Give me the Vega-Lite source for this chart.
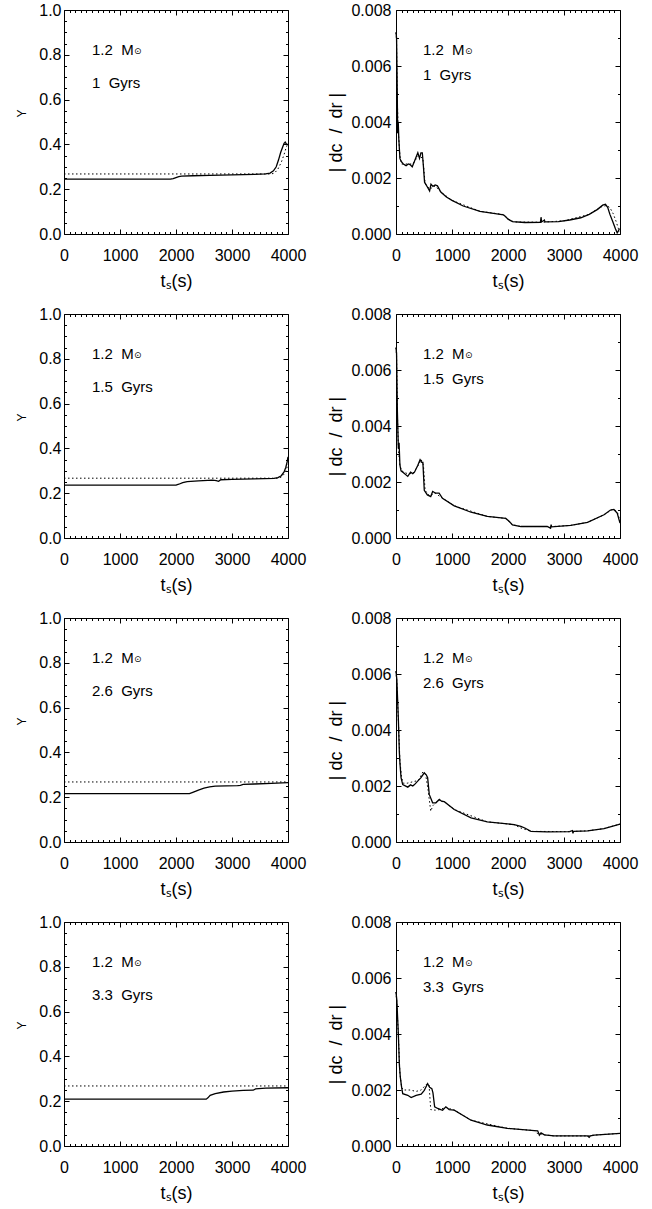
{
"$schema": "https://vega.github.io/schema/vega-lite/v6.json",
"padding": {"left": 14, "top": 1, "right": 5, "bottom": 5},
"background": "white",
"columns": 2,
"spacing": {"row": 80, "column": 108},
"bounds": "flush",
"datasets": {
"L1": [{"t":0,"v":0.245,"m":"s"},{"t":1900,"v":0.245,"m":"s"},{"t":1950,"v":0.247,"m":"s"},{"t":2000,"v":0.252,"m":"s"},{"t":2050,"v":0.256,"m":"s"},{"t":2100,"v":0.258,"m":"s"},{"t":2300,"v":0.26,"m":"s"},{"t":2600,"v":0.262,"m":"s"},{"t":3000,"v":0.264,"m":"s"},{"t":3400,"v":0.266,"m":"s"},{"t":3600,"v":0.268,"m":"s"},{"t":3680,"v":0.272,"m":"s"},{"t":3740,"v":0.282,"m":"s"},{"t":3790,"v":0.3,"m":"s"},{"t":3830,"v":0.33,"m":"s"},{"t":3870,"v":0.365,"m":"s"},{"t":3900,"v":0.385,"m":"s"},{"t":3930,"v":0.405,"m":"s"},{"t":3950,"v":0.41,"m":"s"},{"t":3970,"v":0.402,"m":"s"},{"t":3990,"v":0.4,"m":"s"},
{"t":0,"v":0.268,"m":"d"},{"t":3700,"v":0.268,"m":"d"},{"t":3760,"v":0.272,"m":"d"},{"t":3820,"v":0.29,"m":"d"},{"t":3880,"v":0.32,"m":"d"},{"t":3930,"v":0.355,"m":"d"},{"t":3960,"v":0.38,"m":"d"},{"t":3990,"v":0.4,"m":"d"}],
"L2": [{"t":0,"v":0.236,"m":"s"},{"t":2000,"v":0.236,"m":"s"},{"t":2050,"v":0.24,"m":"s"},{"t":2120,"v":0.247,"m":"s"},{"t":2200,"v":0.252,"m":"s"},{"t":2400,"v":0.255,"m":"s"},{"t":2650,"v":0.258,"m":"s"},{"t":2720,"v":0.256,"m":"s"},{"t":2760,"v":0.253,"m":"s"},{"t":2800,"v":0.26,"m":"s"},{"t":3000,"v":0.262,"m":"s"},{"t":3400,"v":0.264,"m":"s"},{"t":3750,"v":0.266,"m":"s"},{"t":3820,"v":0.27,"m":"s"},{"t":3880,"v":0.278,"m":"s"},{"t":3930,"v":0.295,"m":"s"},{"t":3960,"v":0.315,"m":"s"},{"t":3985,"v":0.34,"m":"s"},{"t":4000,"v":0.362,"m":"s"},
{"t":0,"v":0.267,"m":"d"},{"t":3820,"v":0.267,"m":"d"},{"t":3880,"v":0.272,"m":"d"},{"t":3930,"v":0.285,"m":"d"},{"t":3970,"v":0.305,"m":"d"},{"t":4000,"v":0.33,"m":"d"}],
"L3": [{"t":0,"v":0.216,"m":"s"},{"t":2240,"v":0.216,"m":"s"},{"t":2300,"v":0.222,"m":"s"},{"t":2400,"v":0.232,"m":"s"},{"t":2500,"v":0.24,"m":"s"},{"t":2600,"v":0.246,"m":"s"},{"t":2700,"v":0.249,"m":"s"},{"t":2900,"v":0.251,"m":"s"},{"t":3100,"v":0.252,"m":"s"},{"t":3150,"v":0.253,"m":"s"},{"t":3200,"v":0.257,"m":"s"},{"t":3400,"v":0.259,"m":"s"},{"t":3700,"v":0.262,"m":"s"},{"t":4000,"v":0.265,"m":"s"},
{"t":0,"v":0.268,"m":"d"},{"t":4000,"v":0.268,"m":"d"}],
"L4": [{"t":0,"v":0.209,"m":"s"},{"t":2540,"v":0.209,"m":"s"},{"t":2570,"v":0.215,"m":"s"},{"t":2610,"v":0.226,"m":"s"},{"t":2700,"v":0.234,"m":"s"},{"t":2850,"v":0.241,"m":"s"},{"t":3000,"v":0.245,"m":"s"},{"t":3200,"v":0.248,"m":"s"},{"t":3380,"v":0.249,"m":"s"},{"t":3420,"v":0.255,"m":"s"},{"t":3600,"v":0.258,"m":"s"},{"t":4000,"v":0.26,"m":"s"},
{"t":0,"v":0.268,"m":"d"},{"t":4000,"v":0.268,"m":"d"}],
"R1": [{"t":0,"v":0.0072,"m":"s"},{"t":10,"v":0.007,"m":"s"},{"t":20,"v":0.0055,"m":"s"},{"t":30,"v":0.0036,"m":"s"},{"t":40,"v":0.004,"m":"s"},{"t":50,"v":0.0034,"m":"s"},{"t":70,"v":0.0027,"m":"s"},{"t":90,"v":0.0026,"m":"s"},{"t":130,"v":0.0025,"m":"s"},{"t":180,"v":0.00244,"m":"s"},{"t":220,"v":0.0025,"m":"s"},{"t":250,"v":0.00248,"m":"s"},{"t":290,"v":0.0024,"m":"s"},{"t":330,"v":0.0026,"m":"s"},{"t":370,"v":0.0028,"m":"s"},{"t":390,"v":0.0029,"m":"s"},{"t":420,"v":0.0027,"m":"s"},{"t":445,"v":0.0029,"m":"s"},{"t":470,"v":0.0029,"m":"s"},{"t":490,"v":0.0024,"m":"s"},{"t":510,"v":0.00185,"m":"s"},{"t":560,"v":0.00168,"m":"s"},{"t":600,"v":0.00154,"m":"s"},{"t":625,"v":0.00178,"m":"s"},{"t":660,"v":0.0017,"m":"s"},{"t":700,"v":0.00175,"m":"s"},{"t":740,"v":0.00172,"m":"s"},{"t":800,"v":0.0015,"m":"s"},{"t":900,"v":0.00132,"m":"s"},{"t":1000,"v":0.0012,"m":"s"},{"t":1200,"v":0.001,"m":"s"},{"t":1500,"v":0.00081,"m":"s"},{"t":1800,"v":0.00072,"m":"s"},{"t":1920,"v":0.00068,"m":"s"},{"t":1960,"v":0.00062,"m":"s"},{"t":2000,"v":0.00053,"m":"s"},{"t":2080,"v":0.00044,"m":"s"},{"t":2300,"v":0.00041,"m":"s"},{"t":2580,"v":0.00042,"m":"s"},{"t":2590,"v":0.0006,"m":"s"},{"t":2600,"v":0.00043,"m":"s"},{"t":2650,"v":0.0005,"m":"s"},{"t":2660,"v":0.00043,"m":"s"},{"t":2900,"v":0.00044,"m":"s"},{"t":3100,"v":0.0005,"m":"s"},{"t":3300,"v":0.00058,"m":"s"},{"t":3450,"v":0.0007,"m":"s"},{"t":3600,"v":0.00088,"m":"s"},{"t":3690,"v":0.00103,"m":"s"},{"t":3740,"v":0.00106,"m":"s"},{"t":3780,"v":0.00095,"m":"s"},{"t":3820,"v":0.0007,"m":"s"},{"t":3870,"v":0.00045,"m":"s"},{"t":3920,"v":0.00018,"m":"s"},{"t":3950,"v":0.00004,"m":"s"},{"t":3970,"v":0.0001,"m":"s"},{"t":3990,"v":0.0002,"m":"s"},
{"t":0,"v":0.0072,"m":"d"},{"t":10,"v":0.0069,"m":"d"},{"t":20,"v":0.005,"m":"d"},{"t":40,"v":0.0037,"m":"d"},{"t":70,"v":0.0028,"m":"d"},{"t":100,"v":0.0025,"m":"d"},{"t":200,"v":0.0025,"m":"d"},{"t":300,"v":0.0025,"m":"d"},{"t":400,"v":0.0028,"m":"d"},{"t":480,"v":0.0027,"m":"d"},{"t":520,"v":0.0018,"m":"d"},{"t":600,"v":0.0016,"m":"d"},{"t":700,"v":0.00172,"m":"d"},{"t":800,"v":0.0015,"m":"d"},{"t":1000,"v":0.0012,"m":"d"},{"t":1500,"v":0.00081,"m":"d"},{"t":1900,"v":0.0007,"m":"d"},{"t":2000,"v":0.00054,"m":"d"},{"t":2100,"v":0.00043,"m":"d"},{"t":2600,"v":0.00042,"m":"d"},{"t":3000,"v":0.00047,"m":"d"},{"t":3450,"v":0.0007,"m":"d"},{"t":3650,"v":0.00096,"m":"d"},{"t":3760,"v":0.00102,"m":"d"},{"t":3820,"v":0.00094,"m":"d"},{"t":3880,"v":0.00072,"m":"d"},{"t":3930,"v":0.00045,"m":"d"},{"t":3970,"v":0.0002,"m":"d"},{"t":3995,"v":0.00008,"m":"d"}],
"R2": [{"t":0,"v":0.0068,"m":"s"},{"t":10,"v":0.0066,"m":"s"},{"t":25,"v":0.0045,"m":"s"},{"t":42,"v":0.0032,"m":"s"},{"t":55,"v":0.0034,"m":"s"},{"t":70,"v":0.0026,"m":"s"},{"t":90,"v":0.0024,"m":"s"},{"t":150,"v":0.0023,"m":"s"},{"t":210,"v":0.0022,"m":"s"},{"t":260,"v":0.00235,"m":"s"},{"t":300,"v":0.0023,"m":"s"},{"t":330,"v":0.00235,"m":"s"},{"t":390,"v":0.0026,"m":"s"},{"t":430,"v":0.0028,"m":"s"},{"t":460,"v":0.0027,"m":"s"},{"t":480,"v":0.0027,"m":"s"},{"t":505,"v":0.0017,"m":"s"},{"t":560,"v":0.00154,"m":"s"},{"t":620,"v":0.00148,"m":"s"},{"t":655,"v":0.00166,"m":"s"},{"t":710,"v":0.0016,"m":"s"},{"t":770,"v":0.0016,"m":"s"},{"t":830,"v":0.00142,"m":"s"},{"t":1040,"v":0.00115,"m":"s"},{"t":1340,"v":0.00092,"m":"s"},{"t":1630,"v":0.00077,"m":"s"},{"t":1960,"v":0.0007,"m":"s"},{"t":2020,"v":0.0006,"m":"s"},{"t":2080,"v":0.00047,"m":"s"},{"t":2230,"v":0.00041,"m":"s"},{"t":2700,"v":0.00041,"m":"s"},{"t":2760,"v":0.00035,"m":"s"},{"t":2770,"v":0.00048,"m":"s"},{"t":2780,"v":0.0004,"m":"s"},{"t":3120,"v":0.00045,"m":"s"},{"t":3420,"v":0.00056,"m":"s"},{"t":3715,"v":0.00083,"m":"s"},{"t":3830,"v":0.001,"m":"s"},{"t":3890,"v":0.00102,"m":"s"},{"t":3950,"v":0.00089,"m":"s"},{"t":4000,"v":0.00053,"m":"s"},
{"t":0,"v":0.0068,"m":"d"},{"t":10,"v":0.0065,"m":"d"},{"t":25,"v":0.0044,"m":"d"},{"t":45,"v":0.0031,"m":"d"},{"t":70,"v":0.0026,"m":"d"},{"t":100,"v":0.0024,"m":"d"},{"t":200,"v":0.0023,"m":"d"},{"t":300,"v":0.0023,"m":"d"},{"t":400,"v":0.0026,"m":"d"},{"t":450,"v":0.0028,"m":"d"},{"t":490,"v":0.0026,"m":"d"},{"t":520,"v":0.0017,"m":"d"},{"t":600,"v":0.0015,"m":"d"},{"t":700,"v":0.0016,"m":"d"},{"t":830,"v":0.00142,"m":"d"},{"t":1040,"v":0.00115,"m":"d"},{"t":1630,"v":0.00077,"m":"d"},{"t":1960,"v":0.0007,"m":"d"},{"t":2080,"v":0.00047,"m":"d"},{"t":2230,"v":0.00041,"m":"d"},{"t":2800,"v":0.00041,"m":"d"},{"t":3120,"v":0.00045,"m":"d"},{"t":3420,"v":0.00056,"m":"d"},{"t":3715,"v":0.00083,"m":"d"},{"t":3850,"v":0.00101,"m":"d"},{"t":3910,"v":0.00101,"m":"d"},{"t":3960,"v":0.00088,"m":"d"},{"t":4000,"v":0.0006,"m":"d"}],
"R3": [{"t":0,"v":0.0061,"m":"s"},{"t":15,"v":0.0058,"m":"s"},{"t":42,"v":0.0044,"m":"s"},{"t":60,"v":0.0032,"m":"s"},{"t":71,"v":0.0028,"m":"s"},{"t":90,"v":0.0023,"m":"s"},{"t":120,"v":0.00205,"m":"s"},{"t":210,"v":0.00196,"m":"s"},{"t":260,"v":0.00204,"m":"s"},{"t":300,"v":0.002,"m":"s"},{"t":330,"v":0.00205,"m":"s"},{"t":400,"v":0.0022,"m":"s"},{"t":446,"v":0.0023,"m":"s"},{"t":505,"v":0.00247,"m":"s"},{"t":540,"v":0.0024,"m":"s"},{"t":565,"v":0.0023,"m":"s"},{"t":594,"v":0.0017,"m":"s"},{"t":654,"v":0.0014,"m":"s"},{"t":713,"v":0.0014,"m":"s"},{"t":773,"v":0.00152,"m":"s"},{"t":820,"v":0.00145,"m":"s"},{"t":862,"v":0.00144,"m":"s"},{"t":1040,"v":0.00116,"m":"s"},{"t":1340,"v":0.00086,"m":"s"},{"t":1630,"v":0.00072,"m":"s"},{"t":2110,"v":0.00062,"m":"s"},{"t":2230,"v":0.00056,"m":"s"},{"t":2300,"v":0.0005,"m":"s"},{"t":2410,"v":0.00038,"m":"s"},{"t":2700,"v":0.00036,"m":"s"},{"t":3100,"v":0.00037,"m":"s"},{"t":3150,"v":0.00041,"m":"s"},{"t":3160,"v":0.00031,"m":"s"},{"t":3170,"v":0.00038,"m":"s"},{"t":3420,"v":0.0004,"m":"s"},{"t":3715,"v":0.00048,"m":"s"},{"t":4000,"v":0.00064,"m":"s"},
{"t":0,"v":0.0061,"m":"d"},{"t":15,"v":0.0057,"m":"d"},{"t":45,"v":0.0042,"m":"d"},{"t":70,"v":0.0029,"m":"d"},{"t":100,"v":0.0023,"m":"d"},{"t":130,"v":0.0021,"m":"d"},{"t":200,"v":0.0021,"m":"d"},{"t":300,"v":0.00215,"m":"d"},{"t":400,"v":0.0022,"m":"d"},{"t":480,"v":0.0025,"m":"d"},{"t":530,"v":0.0024,"m":"d"},{"t":570,"v":0.0019,"m":"d"},{"t":620,"v":0.0011,"m":"d"},{"t":660,"v":0.0013,"m":"d"},{"t":700,"v":0.00138,"m":"d"},{"t":773,"v":0.0015,"m":"d"},{"t":862,"v":0.00144,"m":"d"},{"t":1040,"v":0.00116,"m":"d"},{"t":1630,"v":0.00072,"m":"d"},{"t":2110,"v":0.00062,"m":"d"},{"t":2230,"v":0.0005,"m":"d"},{"t":2410,"v":0.00038,"m":"d"},{"t":3100,"v":0.00037,"m":"d"},{"t":3420,"v":0.0004,"m":"d"},{"t":3715,"v":0.00048,"m":"d"},{"t":4000,"v":0.00064,"m":"d"}],
"R4": [{"t":0,"v":0.0055,"m":"s"},{"t":15,"v":0.0052,"m":"s"},{"t":42,"v":0.004,"m":"s"},{"t":60,"v":0.0029,"m":"s"},{"t":77,"v":0.00246,"m":"s"},{"t":100,"v":0.0021,"m":"s"},{"t":120,"v":0.00187,"m":"s"},{"t":210,"v":0.00181,"m":"s"},{"t":270,"v":0.00173,"m":"s"},{"t":360,"v":0.00181,"m":"s"},{"t":450,"v":0.00185,"m":"s"},{"t":505,"v":0.00199,"m":"s"},{"t":565,"v":0.00223,"m":"s"},{"t":600,"v":0.0021,"m":"s"},{"t":640,"v":0.00205,"m":"s"},{"t":660,"v":0.0019,"m":"s"},{"t":690,"v":0.0014,"m":"s"},{"t":745,"v":0.00134,"m":"s"},{"t":800,"v":0.0013,"m":"s"},{"t":832,"v":0.00128,"m":"s"},{"t":890,"v":0.0014,"m":"s"},{"t":950,"v":0.0013,"m":"s"},{"t":1040,"v":0.00128,"m":"s"},{"t":1340,"v":0.00092,"m":"s"},{"t":1630,"v":0.00075,"m":"s"},{"t":1990,"v":0.00063,"m":"s"},{"t":2470,"v":0.00055,"m":"s"},{"t":2530,"v":0.00054,"m":"s"},{"t":2560,"v":0.00039,"m":"s"},{"t":2590,"v":0.00047,"m":"s"},{"t":2650,"v":0.0004,"m":"s"},{"t":2820,"v":0.00036,"m":"s"},{"t":3420,"v":0.00036,"m":"s"},{"t":3450,"v":0.00031,"m":"s"},{"t":3470,"v":0.00036,"m":"s"},{"t":3540,"v":0.00039,"m":"s"},{"t":4000,"v":0.00045,"m":"s"},
{"t":0,"v":0.0055,"m":"d"},{"t":15,"v":0.0051,"m":"d"},{"t":45,"v":0.0038,"m":"d"},{"t":70,"v":0.0026,"m":"d"},{"t":100,"v":0.0021,"m":"d"},{"t":130,"v":0.002,"m":"d"},{"t":250,"v":0.002,"m":"d"},{"t":360,"v":0.00195,"m":"d"},{"t":450,"v":0.002,"m":"d"},{"t":540,"v":0.0022,"m":"d"},{"t":590,"v":0.0022,"m":"d"},{"t":620,"v":0.0013,"m":"d"},{"t":700,"v":0.00128,"m":"d"},{"t":780,"v":0.0013,"m":"d"},{"t":890,"v":0.00138,"m":"d"},{"t":1040,"v":0.00128,"m":"d"},{"t":1340,"v":0.00092,"m":"d"},{"t":1990,"v":0.00063,"m":"d"},{"t":2470,"v":0.00055,"m":"d"},{"t":2520,"v":0.00045,"m":"d"},{"t":2560,"v":0.00044,"m":"d"},{"t":2650,"v":0.0004,"m":"d"},{"t":2820,"v":0.00036,"m":"d"},{"t":3420,"v":0.00036,"m":"d"},{"t":3540,"v":0.00039,"m":"d"},{"t":4000,"v":0.00045,"m":"d"}]
},
"concat": [
{"width":224,"height":224,"data":{"name":"L1"},"layer":[
 {"transform":[{"filter":"datum.m==='s'"}],"mark":{"type":"line","color":"black","strokeWidth":1.3},"encoding":{
  "x":{"field":"t","type":"quantitative","scale":{"domain":[0,4000],"nice":false,"zero":false},"axis":{"orient":"bottom","values":[0,1000,2000,3000,4000],"format":"d","tickSize":-5,"labelPadding":18,"title":"tₛ(s)","titleFontSize":18,"titleBaseline":"middle","titleY":47}},
  "y":{"field":"v","type":"quantitative","scale":{"domain":[0,1],"nice":false,"zero":false},"axis":{"orient":"left","values":[0,0.2,0.4,0.6,0.8,1],"format":".1f","tickSize":-5,"labelPadding":8,"title":"Y","titleFontSize":12,"titleAngle":-90,"titleAlign":"center","titleBaseline":"middle","titleX":-43,"titleY":103}}}},
 {"transform":[{"filter":"datum.m==='d'"}],"mark":{"type":"line","color":"black","strokeWidth":1,"strokeDash":[1.5,2.5]},"encoding":{
  "x":{"field":"t","type":"quantitative","axis":{"orient":"top","values":[0,1000,2000,3000,4000],"tickSize":-5,"labels":false,"title":null}},
  "y":{"field":"v","type":"quantitative","axis":{"orient":"right","values":[0,0.2,0.4,0.6,0.8,1],"tickSize":-5,"labels":false,"title":null}}}},
 {"mark":{"type":"point","opacity":0},"encoding":{
  "x":{"field":"t","type":"quantitative","axis":{"orient":"bottom","values":[100,200,300,400,500,600,700,800,900,1100,1200,1300,1400,1500,1600,1700,1800,1900,2100,2200,2300,2400,2500,2600,2700,2800,2900,3100,3200,3300,3400,3500,3600,3700,3800,3900],"tickSize":-2.5,"labels":false,"title":null}},
  "y":{"field":"v","type":"quantitative","axis":{"orient":"left","values":[0.05,0.1,0.15,0.25,0.3,0.35,0.45,0.5,0.55,0.65,0.7,0.75,0.85,0.9,0.95],"tickSize":-2.5,"labels":false,"title":null}}}},
 {"mark":{"type":"point","opacity":0},"encoding":{
  "x":{"field":"t","type":"quantitative","axis":{"orient":"top","values":[100,200,300,400,500,600,700,800,900,1100,1200,1300,1400,1500,1600,1700,1800,1900,2100,2200,2300,2400,2500,2600,2700,2800,2900,3100,3200,3300,3400,3500,3600,3700,3800,3900],"tickSize":-2.5,"labels":false,"title":null}},
  "y":{"field":"v","type":"quantitative","axis":{"orient":"right","values":[0.05,0.1,0.15,0.25,0.3,0.35,0.45,0.5,0.55,0.65,0.7,0.75,0.85,0.9,0.95],"tickSize":-2.5,"labels":false,"title":null}}}},
 {"data":{"values":[{}]},"mark":{"type":"text","align":"left","baseline":"alphabetic","fontSize":15},"encoding":{"x":{"datum":500,"type":"quantitative","axis":null},"y":{"datum":0.8,"type":"quantitative","axis":null},"text":{"value":"1.2\u00a0\u00a0M"}}},
 {"data":{"values":[{}]},"mark":{"type":"text","align":"left","baseline":"alphabetic","fontSize":9,"dx":42,"dy":-1,"font":"DejaVu Sans"},"encoding":{"x":{"datum":500,"type":"quantitative","axis":null},"y":{"datum":0.8,"type":"quantitative","axis":null},"text":{"value":"⊙"}}},
 {"data":{"values":[{}]},"mark":{"type":"text","align":"left","baseline":"alphabetic","fontSize":15},"encoding":{"x":{"datum":500,"type":"quantitative","axis":null},"y":{"datum":0.65,"type":"quantitative","axis":null},"text":{"value":"1\u00a0\u00a0Gyrs"}}}
],"resolve":{"axis":{"x":"independent","y":"independent"}}},
{"width":224,"height":224,"data":{"name":"R1"},"layer":[
 {"transform":[{"filter":"datum.m==='s'"}],"mark":{"type":"line","color":"black","strokeWidth":1.3},"encoding":{
  "x":{"field":"t","type":"quantitative","scale":{"domain":[0,4000],"nice":false,"zero":false},"axis":{"orient":"bottom","values":[0,1000,2000,3000,4000],"format":"d","tickSize":-5,"labelPadding":18,"title":"tₛ(s)","titleFontSize":18,"titleBaseline":"middle","titleY":47}},
  "y":{"field":"v","type":"quantitative","scale":{"domain":[0,0.008],"nice":false,"zero":false},"axis":{"orient":"left","values":[0,0.002,0.004,0.006,0.008],"format":".3f","tickSize":-5,"labelPadding":10,"title":"|\u00a0dc\u00a0\u00a0/\u00a0\u00a0dr\u00a0|","titleFontSize":18,"titleAngle":-90,"titleAlign":"center","titleBaseline":"middle","titleX":-60,"titleY":122}}}},
 {"transform":[{"filter":"datum.m==='d'"}],"mark":{"type":"line","color":"black","strokeWidth":1,"strokeDash":[1.5,2.5]},"encoding":{
  "x":{"field":"t","type":"quantitative","axis":{"orient":"top","values":[0,1000,2000,3000,4000],"tickSize":-5,"labels":false,"title":null}},
  "y":{"field":"v","type":"quantitative","axis":{"orient":"right","values":[0,0.002,0.004,0.006,0.008],"tickSize":-5,"labels":false,"title":null}}}},
 {"mark":{"type":"point","opacity":0},"encoding":{
  "x":{"field":"t","type":"quantitative","axis":{"orient":"bottom","values":[100,200,300,400,500,600,700,800,900,1100,1200,1300,1400,1500,1600,1700,1800,1900,2100,2200,2300,2400,2500,2600,2700,2800,2900,3100,3200,3300,3400,3500,3600,3700,3800,3900],"tickSize":-2.5,"labels":false,"title":null}},
  "y":{"field":"v","type":"quantitative","axis":{"orient":"left","values":[0.001,0.003,0.005,0.007],"tickSize":-2.5,"labels":false,"title":null}}}},
 {"mark":{"type":"point","opacity":0},"encoding":{
  "x":{"field":"t","type":"quantitative","axis":{"orient":"top","values":[100,200,300,400,500,600,700,800,900,1100,1200,1300,1400,1500,1600,1700,1800,1900,2100,2200,2300,2400,2500,2600,2700,2800,2900,3100,3200,3300,3400,3500,3600,3700,3800,3900],"tickSize":-2.5,"labels":false,"title":null}},
  "y":{"field":"v","type":"quantitative","axis":{"orient":"right","values":[0.001,0.003,0.005,0.007],"tickSize":-2.5,"labels":false,"title":null}}}},
 {"data":{"values":[{}]},"mark":{"type":"text","align":"left","baseline":"alphabetic","fontSize":15},"encoding":{"x":{"datum":480,"type":"quantitative","axis":null},"y":{"datum":0.0064,"type":"quantitative","axis":null},"text":{"value":"1.2\u00a0\u00a0M"}}},
 {"data":{"values":[{}]},"mark":{"type":"text","align":"left","baseline":"alphabetic","fontSize":9,"dx":42,"dy":-1,"font":"DejaVu Sans"},"encoding":{"x":{"datum":480,"type":"quantitative","axis":null},"y":{"datum":0.0064,"type":"quantitative","axis":null},"text":{"value":"⊙"}}},
 {"data":{"values":[{}]},"mark":{"type":"text","align":"left","baseline":"alphabetic","fontSize":15},"encoding":{"x":{"datum":480,"type":"quantitative","axis":null},"y":{"datum":0.0055,"type":"quantitative","axis":null},"text":{"value":"1\u00a0\u00a0Gyrs"}}}
],"resolve":{"axis":{"x":"independent","y":"independent"}}},
{"width":224,"height":224,"data":{"name":"L2"},"layer":[
 {"transform":[{"filter":"datum.m==='s'"}],"mark":{"type":"line","color":"black","strokeWidth":1.3},"encoding":{
  "x":{"field":"t","type":"quantitative","scale":{"domain":[0,4000],"nice":false,"zero":false},"axis":{"orient":"bottom","values":[0,1000,2000,3000,4000],"format":"d","tickSize":-5,"labelPadding":18,"title":"tₛ(s)","titleFontSize":18,"titleBaseline":"middle","titleY":47}},
  "y":{"field":"v","type":"quantitative","scale":{"domain":[0,1],"nice":false,"zero":false},"axis":{"orient":"left","values":[0,0.2,0.4,0.6,0.8,1],"format":".1f","tickSize":-5,"labelPadding":8,"title":"Y","titleFontSize":12,"titleAngle":-90,"titleAlign":"center","titleBaseline":"middle","titleX":-43,"titleY":103}}}},
 {"transform":[{"filter":"datum.m==='d'"}],"mark":{"type":"line","color":"black","strokeWidth":1,"strokeDash":[1.5,2.5]},"encoding":{
  "x":{"field":"t","type":"quantitative","axis":{"orient":"top","values":[0,1000,2000,3000,4000],"tickSize":-5,"labels":false,"title":null}},
  "y":{"field":"v","type":"quantitative","axis":{"orient":"right","values":[0,0.2,0.4,0.6,0.8,1],"tickSize":-5,"labels":false,"title":null}}}},
 {"mark":{"type":"point","opacity":0},"encoding":{
  "x":{"field":"t","type":"quantitative","axis":{"orient":"bottom","values":[100,200,300,400,500,600,700,800,900,1100,1200,1300,1400,1500,1600,1700,1800,1900,2100,2200,2300,2400,2500,2600,2700,2800,2900,3100,3200,3300,3400,3500,3600,3700,3800,3900],"tickSize":-2.5,"labels":false,"title":null}},
  "y":{"field":"v","type":"quantitative","axis":{"orient":"left","values":[0.05,0.1,0.15,0.25,0.3,0.35,0.45,0.5,0.55,0.65,0.7,0.75,0.85,0.9,0.95],"tickSize":-2.5,"labels":false,"title":null}}}},
 {"mark":{"type":"point","opacity":0},"encoding":{
  "x":{"field":"t","type":"quantitative","axis":{"orient":"top","values":[100,200,300,400,500,600,700,800,900,1100,1200,1300,1400,1500,1600,1700,1800,1900,2100,2200,2300,2400,2500,2600,2700,2800,2900,3100,3200,3300,3400,3500,3600,3700,3800,3900],"tickSize":-2.5,"labels":false,"title":null}},
  "y":{"field":"v","type":"quantitative","axis":{"orient":"right","values":[0.05,0.1,0.15,0.25,0.3,0.35,0.45,0.5,0.55,0.65,0.7,0.75,0.85,0.9,0.95],"tickSize":-2.5,"labels":false,"title":null}}}},
 {"data":{"values":[{}]},"mark":{"type":"text","align":"left","baseline":"alphabetic","fontSize":15},"encoding":{"x":{"datum":500,"type":"quantitative","axis":null},"y":{"datum":0.8,"type":"quantitative","axis":null},"text":{"value":"1.2\u00a0\u00a0M"}}},
 {"data":{"values":[{}]},"mark":{"type":"text","align":"left","baseline":"alphabetic","fontSize":9,"dx":42,"dy":-1,"font":"DejaVu Sans"},"encoding":{"x":{"datum":500,"type":"quantitative","axis":null},"y":{"datum":0.8,"type":"quantitative","axis":null},"text":{"value":"⊙"}}},
 {"data":{"values":[{}]},"mark":{"type":"text","align":"left","baseline":"alphabetic","fontSize":15},"encoding":{"x":{"datum":500,"type":"quantitative","axis":null},"y":{"datum":0.65,"type":"quantitative","axis":null},"text":{"value":"1.5\u00a0\u00a0Gyrs"}}}
],"resolve":{"axis":{"x":"independent","y":"independent"}}},
{"width":224,"height":224,"data":{"name":"R2"},"layer":[
 {"transform":[{"filter":"datum.m==='s'"}],"mark":{"type":"line","color":"black","strokeWidth":1.3},"encoding":{
  "x":{"field":"t","type":"quantitative","scale":{"domain":[0,4000],"nice":false,"zero":false},"axis":{"orient":"bottom","values":[0,1000,2000,3000,4000],"format":"d","tickSize":-5,"labelPadding":18,"title":"tₛ(s)","titleFontSize":18,"titleBaseline":"middle","titleY":47}},
  "y":{"field":"v","type":"quantitative","scale":{"domain":[0,0.008],"nice":false,"zero":false},"axis":{"orient":"left","values":[0,0.002,0.004,0.006,0.008],"format":".3f","tickSize":-5,"labelPadding":10,"title":"|\u00a0dc\u00a0\u00a0/\u00a0\u00a0dr\u00a0|","titleFontSize":18,"titleAngle":-90,"titleAlign":"center","titleBaseline":"middle","titleX":-60,"titleY":122}}}},
 {"transform":[{"filter":"datum.m==='d'"}],"mark":{"type":"line","color":"black","strokeWidth":1,"strokeDash":[1.5,2.5]},"encoding":{
  "x":{"field":"t","type":"quantitative","axis":{"orient":"top","values":[0,1000,2000,3000,4000],"tickSize":-5,"labels":false,"title":null}},
  "y":{"field":"v","type":"quantitative","axis":{"orient":"right","values":[0,0.002,0.004,0.006,0.008],"tickSize":-5,"labels":false,"title":null}}}},
 {"mark":{"type":"point","opacity":0},"encoding":{
  "x":{"field":"t","type":"quantitative","axis":{"orient":"bottom","values":[100,200,300,400,500,600,700,800,900,1100,1200,1300,1400,1500,1600,1700,1800,1900,2100,2200,2300,2400,2500,2600,2700,2800,2900,3100,3200,3300,3400,3500,3600,3700,3800,3900],"tickSize":-2.5,"labels":false,"title":null}},
  "y":{"field":"v","type":"quantitative","axis":{"orient":"left","values":[0.001,0.003,0.005,0.007],"tickSize":-2.5,"labels":false,"title":null}}}},
 {"mark":{"type":"point","opacity":0},"encoding":{
  "x":{"field":"t","type":"quantitative","axis":{"orient":"top","values":[100,200,300,400,500,600,700,800,900,1100,1200,1300,1400,1500,1600,1700,1800,1900,2100,2200,2300,2400,2500,2600,2700,2800,2900,3100,3200,3300,3400,3500,3600,3700,3800,3900],"tickSize":-2.5,"labels":false,"title":null}},
  "y":{"field":"v","type":"quantitative","axis":{"orient":"right","values":[0.001,0.003,0.005,0.007],"tickSize":-2.5,"labels":false,"title":null}}}},
 {"data":{"values":[{}]},"mark":{"type":"text","align":"left","baseline":"alphabetic","fontSize":15},"encoding":{"x":{"datum":480,"type":"quantitative","axis":null},"y":{"datum":0.0064,"type":"quantitative","axis":null},"text":{"value":"1.2\u00a0\u00a0M"}}},
 {"data":{"values":[{}]},"mark":{"type":"text","align":"left","baseline":"alphabetic","fontSize":9,"dx":42,"dy":-1,"font":"DejaVu Sans"},"encoding":{"x":{"datum":480,"type":"quantitative","axis":null},"y":{"datum":0.0064,"type":"quantitative","axis":null},"text":{"value":"⊙"}}},
 {"data":{"values":[{}]},"mark":{"type":"text","align":"left","baseline":"alphabetic","fontSize":15},"encoding":{"x":{"datum":480,"type":"quantitative","axis":null},"y":{"datum":0.0055,"type":"quantitative","axis":null},"text":{"value":"1.5\u00a0\u00a0Gyrs"}}}
],"resolve":{"axis":{"x":"independent","y":"independent"}}},
{"width":224,"height":224,"data":{"name":"L3"},"layer":[
 {"transform":[{"filter":"datum.m==='s'"}],"mark":{"type":"line","color":"black","strokeWidth":1.3},"encoding":{
  "x":{"field":"t","type":"quantitative","scale":{"domain":[0,4000],"nice":false,"zero":false},"axis":{"orient":"bottom","values":[0,1000,2000,3000,4000],"format":"d","tickSize":-5,"labelPadding":18,"title":"tₛ(s)","titleFontSize":18,"titleBaseline":"middle","titleY":47}},
  "y":{"field":"v","type":"quantitative","scale":{"domain":[0,1],"nice":false,"zero":false},"axis":{"orient":"left","values":[0,0.2,0.4,0.6,0.8,1],"format":".1f","tickSize":-5,"labelPadding":8,"title":"Y","titleFontSize":12,"titleAngle":-90,"titleAlign":"center","titleBaseline":"middle","titleX":-43,"titleY":103}}}},
 {"transform":[{"filter":"datum.m==='d'"}],"mark":{"type":"line","color":"black","strokeWidth":1,"strokeDash":[1.5,2.5]},"encoding":{
  "x":{"field":"t","type":"quantitative","axis":{"orient":"top","values":[0,1000,2000,3000,4000],"tickSize":-5,"labels":false,"title":null}},
  "y":{"field":"v","type":"quantitative","axis":{"orient":"right","values":[0,0.2,0.4,0.6,0.8,1],"tickSize":-5,"labels":false,"title":null}}}},
 {"mark":{"type":"point","opacity":0},"encoding":{
  "x":{"field":"t","type":"quantitative","axis":{"orient":"bottom","values":[100,200,300,400,500,600,700,800,900,1100,1200,1300,1400,1500,1600,1700,1800,1900,2100,2200,2300,2400,2500,2600,2700,2800,2900,3100,3200,3300,3400,3500,3600,3700,3800,3900],"tickSize":-2.5,"labels":false,"title":null}},
  "y":{"field":"v","type":"quantitative","axis":{"orient":"left","values":[0.05,0.1,0.15,0.25,0.3,0.35,0.45,0.5,0.55,0.65,0.7,0.75,0.85,0.9,0.95],"tickSize":-2.5,"labels":false,"title":null}}}},
 {"mark":{"type":"point","opacity":0},"encoding":{
  "x":{"field":"t","type":"quantitative","axis":{"orient":"top","values":[100,200,300,400,500,600,700,800,900,1100,1200,1300,1400,1500,1600,1700,1800,1900,2100,2200,2300,2400,2500,2600,2700,2800,2900,3100,3200,3300,3400,3500,3600,3700,3800,3900],"tickSize":-2.5,"labels":false,"title":null}},
  "y":{"field":"v","type":"quantitative","axis":{"orient":"right","values":[0.05,0.1,0.15,0.25,0.3,0.35,0.45,0.5,0.55,0.65,0.7,0.75,0.85,0.9,0.95],"tickSize":-2.5,"labels":false,"title":null}}}},
 {"data":{"values":[{}]},"mark":{"type":"text","align":"left","baseline":"alphabetic","fontSize":15},"encoding":{"x":{"datum":500,"type":"quantitative","axis":null},"y":{"datum":0.8,"type":"quantitative","axis":null},"text":{"value":"1.2\u00a0\u00a0M"}}},
 {"data":{"values":[{}]},"mark":{"type":"text","align":"left","baseline":"alphabetic","fontSize":9,"dx":42,"dy":-1,"font":"DejaVu Sans"},"encoding":{"x":{"datum":500,"type":"quantitative","axis":null},"y":{"datum":0.8,"type":"quantitative","axis":null},"text":{"value":"⊙"}}},
 {"data":{"values":[{}]},"mark":{"type":"text","align":"left","baseline":"alphabetic","fontSize":15},"encoding":{"x":{"datum":500,"type":"quantitative","axis":null},"y":{"datum":0.65,"type":"quantitative","axis":null},"text":{"value":"2.6\u00a0\u00a0Gyrs"}}}
],"resolve":{"axis":{"x":"independent","y":"independent"}}},
{"width":224,"height":224,"data":{"name":"R3"},"layer":[
 {"transform":[{"filter":"datum.m==='s'"}],"mark":{"type":"line","color":"black","strokeWidth":1.3},"encoding":{
  "x":{"field":"t","type":"quantitative","scale":{"domain":[0,4000],"nice":false,"zero":false},"axis":{"orient":"bottom","values":[0,1000,2000,3000,4000],"format":"d","tickSize":-5,"labelPadding":18,"title":"tₛ(s)","titleFontSize":18,"titleBaseline":"middle","titleY":47}},
  "y":{"field":"v","type":"quantitative","scale":{"domain":[0,0.008],"nice":false,"zero":false},"axis":{"orient":"left","values":[0,0.002,0.004,0.006,0.008],"format":".3f","tickSize":-5,"labelPadding":10,"title":"|\u00a0dc\u00a0\u00a0/\u00a0\u00a0dr\u00a0|","titleFontSize":18,"titleAngle":-90,"titleAlign":"center","titleBaseline":"middle","titleX":-60,"titleY":122}}}},
 {"transform":[{"filter":"datum.m==='d'"}],"mark":{"type":"line","color":"black","strokeWidth":1,"strokeDash":[1.5,2.5]},"encoding":{
  "x":{"field":"t","type":"quantitative","axis":{"orient":"top","values":[0,1000,2000,3000,4000],"tickSize":-5,"labels":false,"title":null}},
  "y":{"field":"v","type":"quantitative","axis":{"orient":"right","values":[0,0.002,0.004,0.006,0.008],"tickSize":-5,"labels":false,"title":null}}}},
 {"mark":{"type":"point","opacity":0},"encoding":{
  "x":{"field":"t","type":"quantitative","axis":{"orient":"bottom","values":[100,200,300,400,500,600,700,800,900,1100,1200,1300,1400,1500,1600,1700,1800,1900,2100,2200,2300,2400,2500,2600,2700,2800,2900,3100,3200,3300,3400,3500,3600,3700,3800,3900],"tickSize":-2.5,"labels":false,"title":null}},
  "y":{"field":"v","type":"quantitative","axis":{"orient":"left","values":[0.001,0.003,0.005,0.007],"tickSize":-2.5,"labels":false,"title":null}}}},
 {"mark":{"type":"point","opacity":0},"encoding":{
  "x":{"field":"t","type":"quantitative","axis":{"orient":"top","values":[100,200,300,400,500,600,700,800,900,1100,1200,1300,1400,1500,1600,1700,1800,1900,2100,2200,2300,2400,2500,2600,2700,2800,2900,3100,3200,3300,3400,3500,3600,3700,3800,3900],"tickSize":-2.5,"labels":false,"title":null}},
  "y":{"field":"v","type":"quantitative","axis":{"orient":"right","values":[0.001,0.003,0.005,0.007],"tickSize":-2.5,"labels":false,"title":null}}}},
 {"data":{"values":[{}]},"mark":{"type":"text","align":"left","baseline":"alphabetic","fontSize":15},"encoding":{"x":{"datum":480,"type":"quantitative","axis":null},"y":{"datum":0.0064,"type":"quantitative","axis":null},"text":{"value":"1.2\u00a0\u00a0M"}}},
 {"data":{"values":[{}]},"mark":{"type":"text","align":"left","baseline":"alphabetic","fontSize":9,"dx":42,"dy":-1,"font":"DejaVu Sans"},"encoding":{"x":{"datum":480,"type":"quantitative","axis":null},"y":{"datum":0.0064,"type":"quantitative","axis":null},"text":{"value":"⊙"}}},
 {"data":{"values":[{}]},"mark":{"type":"text","align":"left","baseline":"alphabetic","fontSize":15},"encoding":{"x":{"datum":480,"type":"quantitative","axis":null},"y":{"datum":0.0055,"type":"quantitative","axis":null},"text":{"value":"2.6\u00a0\u00a0Gyrs"}}}
],"resolve":{"axis":{"x":"independent","y":"independent"}}},
{"width":224,"height":224,"data":{"name":"L4"},"layer":[
 {"transform":[{"filter":"datum.m==='s'"}],"mark":{"type":"line","color":"black","strokeWidth":1.3},"encoding":{
  "x":{"field":"t","type":"quantitative","scale":{"domain":[0,4000],"nice":false,"zero":false},"axis":{"orient":"bottom","values":[0,1000,2000,3000,4000],"format":"d","tickSize":-5,"labelPadding":18,"title":"tₛ(s)","titleFontSize":18,"titleBaseline":"middle","titleY":47}},
  "y":{"field":"v","type":"quantitative","scale":{"domain":[0,1],"nice":false,"zero":false},"axis":{"orient":"left","values":[0,0.2,0.4,0.6,0.8,1],"format":".1f","tickSize":-5,"labelPadding":8,"title":"Y","titleFontSize":12,"titleAngle":-90,"titleAlign":"center","titleBaseline":"middle","titleX":-43,"titleY":103}}}},
 {"transform":[{"filter":"datum.m==='d'"}],"mark":{"type":"line","color":"black","strokeWidth":1,"strokeDash":[1.5,2.5]},"encoding":{
  "x":{"field":"t","type":"quantitative","axis":{"orient":"top","values":[0,1000,2000,3000,4000],"tickSize":-5,"labels":false,"title":null}},
  "y":{"field":"v","type":"quantitative","axis":{"orient":"right","values":[0,0.2,0.4,0.6,0.8,1],"tickSize":-5,"labels":false,"title":null}}}},
 {"mark":{"type":"point","opacity":0},"encoding":{
  "x":{"field":"t","type":"quantitative","axis":{"orient":"bottom","values":[100,200,300,400,500,600,700,800,900,1100,1200,1300,1400,1500,1600,1700,1800,1900,2100,2200,2300,2400,2500,2600,2700,2800,2900,3100,3200,3300,3400,3500,3600,3700,3800,3900],"tickSize":-2.5,"labels":false,"title":null}},
  "y":{"field":"v","type":"quantitative","axis":{"orient":"left","values":[0.05,0.1,0.15,0.25,0.3,0.35,0.45,0.5,0.55,0.65,0.7,0.75,0.85,0.9,0.95],"tickSize":-2.5,"labels":false,"title":null}}}},
 {"mark":{"type":"point","opacity":0},"encoding":{
  "x":{"field":"t","type":"quantitative","axis":{"orient":"top","values":[100,200,300,400,500,600,700,800,900,1100,1200,1300,1400,1500,1600,1700,1800,1900,2100,2200,2300,2400,2500,2600,2700,2800,2900,3100,3200,3300,3400,3500,3600,3700,3800,3900],"tickSize":-2.5,"labels":false,"title":null}},
  "y":{"field":"v","type":"quantitative","axis":{"orient":"right","values":[0.05,0.1,0.15,0.25,0.3,0.35,0.45,0.5,0.55,0.65,0.7,0.75,0.85,0.9,0.95],"tickSize":-2.5,"labels":false,"title":null}}}},
 {"data":{"values":[{}]},"mark":{"type":"text","align":"left","baseline":"alphabetic","fontSize":15},"encoding":{"x":{"datum":500,"type":"quantitative","axis":null},"y":{"datum":0.8,"type":"quantitative","axis":null},"text":{"value":"1.2\u00a0\u00a0M"}}},
 {"data":{"values":[{}]},"mark":{"type":"text","align":"left","baseline":"alphabetic","fontSize":9,"dx":42,"dy":-1,"font":"DejaVu Sans"},"encoding":{"x":{"datum":500,"type":"quantitative","axis":null},"y":{"datum":0.8,"type":"quantitative","axis":null},"text":{"value":"⊙"}}},
 {"data":{"values":[{}]},"mark":{"type":"text","align":"left","baseline":"alphabetic","fontSize":15},"encoding":{"x":{"datum":500,"type":"quantitative","axis":null},"y":{"datum":0.65,"type":"quantitative","axis":null},"text":{"value":"3.3\u00a0\u00a0Gyrs"}}}
],"resolve":{"axis":{"x":"independent","y":"independent"}}},
{"width":224,"height":224,"data":{"name":"R4"},"layer":[
 {"transform":[{"filter":"datum.m==='s'"}],"mark":{"type":"line","color":"black","strokeWidth":1.3},"encoding":{
  "x":{"field":"t","type":"quantitative","scale":{"domain":[0,4000],"nice":false,"zero":false},"axis":{"orient":"bottom","values":[0,1000,2000,3000,4000],"format":"d","tickSize":-5,"labelPadding":18,"title":"tₛ(s)","titleFontSize":18,"titleBaseline":"middle","titleY":47}},
  "y":{"field":"v","type":"quantitative","scale":{"domain":[0,0.008],"nice":false,"zero":false},"axis":{"orient":"left","values":[0,0.002,0.004,0.006,0.008],"format":".3f","tickSize":-5,"labelPadding":10,"title":"|\u00a0dc\u00a0\u00a0/\u00a0\u00a0dr\u00a0|","titleFontSize":18,"titleAngle":-90,"titleAlign":"center","titleBaseline":"middle","titleX":-60,"titleY":122}}}},
 {"transform":[{"filter":"datum.m==='d'"}],"mark":{"type":"line","color":"black","strokeWidth":1,"strokeDash":[1.5,2.5]},"encoding":{
  "x":{"field":"t","type":"quantitative","axis":{"orient":"top","values":[0,1000,2000,3000,4000],"tickSize":-5,"labels":false,"title":null}},
  "y":{"field":"v","type":"quantitative","axis":{"orient":"right","values":[0,0.002,0.004,0.006,0.008],"tickSize":-5,"labels":false,"title":null}}}},
 {"mark":{"type":"point","opacity":0},"encoding":{
  "x":{"field":"t","type":"quantitative","axis":{"orient":"bottom","values":[100,200,300,400,500,600,700,800,900,1100,1200,1300,1400,1500,1600,1700,1800,1900,2100,2200,2300,2400,2500,2600,2700,2800,2900,3100,3200,3300,3400,3500,3600,3700,3800,3900],"tickSize":-2.5,"labels":false,"title":null}},
  "y":{"field":"v","type":"quantitative","axis":{"orient":"left","values":[0.001,0.003,0.005,0.007],"tickSize":-2.5,"labels":false,"title":null}}}},
 {"mark":{"type":"point","opacity":0},"encoding":{
  "x":{"field":"t","type":"quantitative","axis":{"orient":"top","values":[100,200,300,400,500,600,700,800,900,1100,1200,1300,1400,1500,1600,1700,1800,1900,2100,2200,2300,2400,2500,2600,2700,2800,2900,3100,3200,3300,3400,3500,3600,3700,3800,3900],"tickSize":-2.5,"labels":false,"title":null}},
  "y":{"field":"v","type":"quantitative","axis":{"orient":"right","values":[0.001,0.003,0.005,0.007],"tickSize":-2.5,"labels":false,"title":null}}}},
 {"data":{"values":[{}]},"mark":{"type":"text","align":"left","baseline":"alphabetic","fontSize":15},"encoding":{"x":{"datum":480,"type":"quantitative","axis":null},"y":{"datum":0.0064,"type":"quantitative","axis":null},"text":{"value":"1.2\u00a0\u00a0M"}}},
 {"data":{"values":[{}]},"mark":{"type":"text","align":"left","baseline":"alphabetic","fontSize":9,"dx":42,"dy":-1,"font":"DejaVu Sans"},"encoding":{"x":{"datum":480,"type":"quantitative","axis":null},"y":{"datum":0.0064,"type":"quantitative","axis":null},"text":{"value":"⊙"}}},
 {"data":{"values":[{}]},"mark":{"type":"text","align":"left","baseline":"alphabetic","fontSize":15},"encoding":{"x":{"datum":480,"type":"quantitative","axis":null},"y":{"datum":0.0055,"type":"quantitative","axis":null},"text":{"value":"3.3\u00a0\u00a0Gyrs"}}}
],"resolve":{"axis":{"x":"independent","y":"independent"}}}
],
"config": {
 "font": "Liberation Sans, Arial, sans-serif",
 "view": {"stroke": "black", "strokeWidth": 1},
 "axis": {"domain": false, "grid": false, "tickColor": "black", "tickWidth": 1, "labelColor": "black", "titleColor": "black", "labelFontSize": 16, "labelFont": "Liberation Sans, Arial, sans-serif", "titleFont": "Liberation Sans, Arial, sans-serif", "titleFontWeight": "normal", "labelFlush": false, "labelOverlap": false},
 "text": {"color": "black"}
}
}
